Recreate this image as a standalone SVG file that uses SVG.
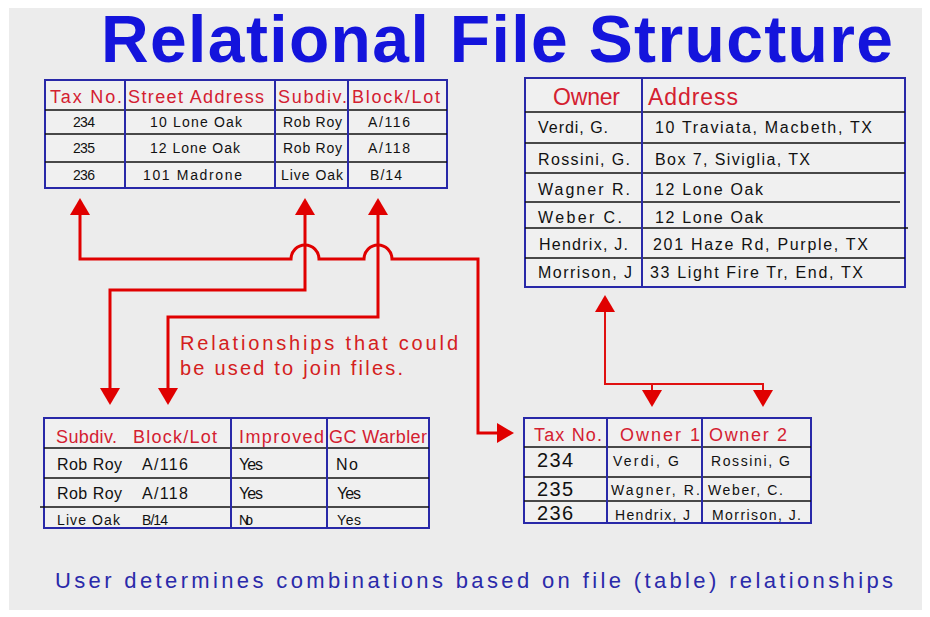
<svg xmlns="http://www.w3.org/2000/svg" width="930" height="617" viewBox="0 0 930 617">
<defs>
<style>
text{font-family:"Liberation Sans",Arial,sans-serif}
.title{font-size:66px;font-weight:bold;fill:#1414dc}
.foot{font-size:22px;fill:#2a2aaa}
.note{font-size:20px;fill:#d42020}
.hdr{font-size:18px;fill:#d42030}
.hdr2{font-size:23px;fill:#d42030}
.c{font-size:14px;fill:#111}
.c2{font-size:16px;fill:#111}
.n{font-size:20px;fill:#111}
.box{fill:#f0f0f0;stroke:#2828a8;stroke-width:2}
.vl{stroke:#2828a8;stroke-width:2}
.hl{stroke:#111;stroke-width:1.6}
.con{fill:none;stroke:#e00000;stroke-width:3}
.con2{fill:none;stroke:#e01010;stroke-width:2}
</style>
<marker id="ah" markerUnits="userSpaceOnUse" markerWidth="18" markerHeight="22" viewBox="0 -11 18 22" refX="0" refY="0" orient="auto-start-reverse">
<path d="M0,-10 L17,0 L0,10 Z" fill="#e00000"/>
</marker>
</defs>
<rect x="0" y="0" width="930" height="617" fill="#ffffff"/>
<rect x="9" y="8" width="913" height="602" fill="#ececec"/>
<text class="title" x="101" y="62" textLength="792">Relational File Structure</text>

<g id="parcels">
<rect class="box" x="45" y="80" width="402" height="108"/>
<line class="hl" x1="45" y1="110" x2="447" y2="110"/>
<line class="hl" x1="45" y1="134" x2="447" y2="134"/>
<line class="hl" x1="45" y1="162" x2="447" y2="162"/>
<line class="vl" x1="125" y1="80" x2="125" y2="188"/>
<line class="vl" x1="275" y1="80" x2="275" y2="188"/>
<line class="vl" x1="348" y1="80" x2="348" y2="188"/>
<text class="hdr" x="50" y="103" textLength="72">Tax No.</text>
<text class="hdr" x="128" y="103" textLength="136">Street Address</text>
<text class="hdr" x="278" y="103" textLength="69">Subdiv.</text>
<text class="hdr" x="352" y="103" textLength="88">Block/Lot</text>
<text class="c" x="73" y="127" textLength="22">234</text>
<text class="c" x="150" y="127" textLength="92">10 Lone Oak</text>
<text class="c" x="283" y="127" textLength="59">Rob Roy</text>
<text class="c" x="368" y="127" textLength="42">A/116</text>
<text class="c" x="73" y="153" textLength="22">235</text>
<text class="c" x="150" y="153" textLength="90">12 Lone Oak</text>
<text class="c" x="283" y="153" textLength="59">Rob Roy</text>
<text class="c" x="368" y="153" textLength="42">A/118</text>
<text class="c" x="73" y="180" textLength="22">236</text>
<text class="c" x="143" y="180" textLength="99">101 Madrone</text>
<text class="c" x="281" y="180" textLength="62">Live Oak</text>
<text class="c" x="370" y="180" textLength="32">B/14</text>
</g>

<g id="owners">
<rect class="box" x="525" y="78" width="380" height="209"/>
<line class="hl" x1="525" y1="112" x2="905" y2="112"/>
<line class="hl" x1="525" y1="143" x2="905" y2="143"/>
<line class="hl" x1="525" y1="173" x2="905" y2="173"/>
<line class="hl" x1="525" y1="202" x2="900" y2="202"/>
<line class="hl" x1="525" y1="228" x2="908" y2="228"/>
<line class="hl" x1="525" y1="258" x2="905" y2="258"/>
<line class="vl" x1="642" y1="78" x2="642" y2="287"/>
<text class="hdr2" x="553" y="105" textLength="67">Owner</text>
<text class="hdr2" x="648" y="105" textLength="90">Address</text>
<text class="c2" x="538" y="133" textLength="70">Verdi, G.</text>
<text class="c2" x="655" y="133" textLength="217">10 Traviata, Macbeth, TX</text>
<text class="c2" x="538" y="165" textLength="92">Rossini, G.</text>
<text class="c2" x="655" y="165" textLength="155">Box 7, Siviglia, TX</text>
<text class="c2" x="538" y="195" textLength="92">Wagner R.</text>
<text class="c2" x="655" y="195" textLength="108">12 Lone Oak</text>
<text class="c2" x="538" y="223" textLength="84">Weber C.</text>
<text class="c2" x="655" y="223" textLength="108">12 Lone Oak</text>
<text class="c2" x="539" y="250" textLength="89">Hendrix, J.</text>
<text class="c2" x="653" y="250" textLength="215">201 Haze Rd, Purple, TX</text>
<text class="c2" x="538" y="278" textLength="94">Morrison, J</text>
<text class="c2" x="650" y="278" textLength="213">33 Light Fire Tr, End, TX</text>
</g>

<g id="habitat">
<rect class="box" x="44" y="418" width="385" height="110"/>
<line class="hl" x1="44" y1="448" x2="429" y2="448"/>
<line class="hl" x1="44" y1="478" x2="429" y2="478"/>
<line class="hl" x1="40" y1="507" x2="429" y2="507"/>
<line class="vl" x1="231" y1="418" x2="231" y2="528"/>
<line class="vl" x1="327" y1="418" x2="327" y2="528"/>
<text class="hdr" x="56" y="443" textLength="61">Subdiv.</text>
<text class="hdr" x="133" y="443" textLength="84">Block/Lot</text>
<text class="hdr" x="239" y="443" textLength="85">Improved</text>
<text class="hdr" x="329" y="443" textLength="98">GC Warbler</text>
<text class="c2" x="57" y="470" textLength="65">Rob Roy</text>
<text class="c2" x="142" y="470" textLength="46">A/116</text>
<text class="c2" x="239" y="470" textLength="24">Yes</text>
<text class="c2" x="336" y="470" textLength="22">No</text>
<text class="c2" x="57" y="499" textLength="65">Rob Roy</text>
<text class="c2" x="142" y="499" textLength="46">A/118</text>
<text class="c2" x="239" y="499" textLength="24">Yes</text>
<text class="c2" x="337" y="499" textLength="24">Yes</text>
<text class="c" x="57" y="525" textLength="63">Live Oak</text>
<text class="c" x="142" y="525" textLength="26">B/14</text>
<text class="c" x="239" y="525" textLength="14">No</text>
<text class="c" x="337" y="525" textLength="24">Yes</text>
</g>

<g id="ownership">
<rect class="box" x="524" y="418" width="287" height="105"/>
<line class="hl" x1="524" y1="447" x2="811" y2="447"/>
<line class="hl" x1="524" y1="477" x2="811" y2="477"/>
<line class="hl" x1="524" y1="501" x2="811" y2="501"/>
<line class="vl" x1="607" y1="418" x2="607" y2="523"/>
<line class="vl" x1="702" y1="418" x2="702" y2="523"/>
<text class="hdr" x="534" y="441" textLength="68">Tax No.</text>
<text class="hdr" x="620" y="441" textLength="80">Owner 1</text>
<text class="hdr" x="709" y="441" textLength="78">Owner 2</text>
<text class="n" x="537" y="467" textLength="36">234</text>
<text class="c" x="613" y="466" textLength="66">Verdi, G</text>
<text class="c" x="711" y="466" textLength="79">Rossini, G</text>
<text class="n" x="537" y="496" textLength="36">235</text>
<text class="c" x="611" y="495" textLength="89">Wagner, R.</text>
<text class="c" x="708" y="495" textLength="75">Weber, C.</text>
<text class="n" x="537" y="520" textLength="36">236</text>
<text class="c" x="615" y="520" textLength="75">Hendrix, J</text>
<text class="c" x="712" y="520" textLength="89">Morrison, J.</text>
</g>

<g id="connectors">
<path class="con" marker-start="url(#ah)" marker-end="url(#ah)" d="M80,215 V259 H291 A14,14 0 0 1 319,259 H364 A14,14 0 0 1 392,259 H478 V433 H497"/>
<path class="con" marker-start="url(#ah)" marker-end="url(#ah)" d="M305,215 V290 H110 V388"/>
<path class="con" marker-start="url(#ah)" marker-end="url(#ah)" d="M378,215 V317 H168 V388"/>
<path class="con2" marker-start="url(#ah)" marker-end="url(#ah)" d="M605,312 V384 H763 V390"/>
<path class="con2" marker-end="url(#ah)" d="M652,384 V390"/>
</g>

<g id="labels">
<text class="note" x="180" y="350" textLength="278">Relationships that could</text>
<text class="note" x="180" y="375" textLength="223">be used to join files.</text>
<text class="foot" x="55" y="588" textLength="838">User determines combinations based on file (table) relationships</text>
</g>
</svg>
